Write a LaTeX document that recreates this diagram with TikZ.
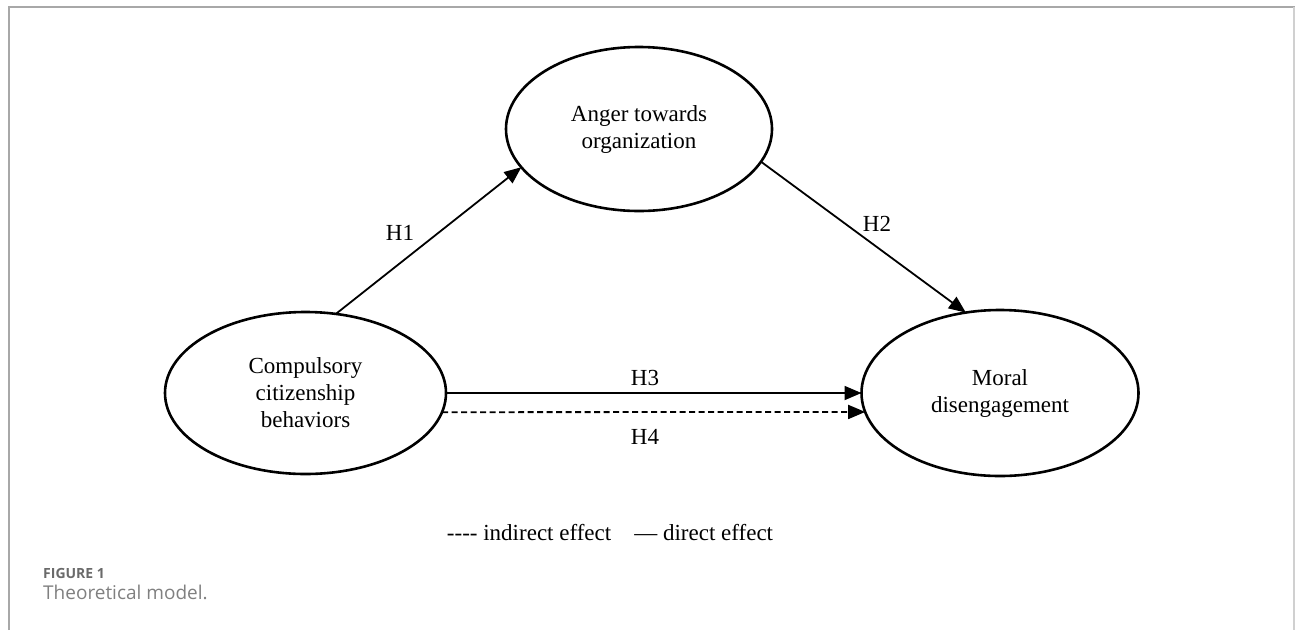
\documentclass[tikz,border=0pt]{standalone}
\usepackage{fontspec}
\setmainfont{Liberation Serif}
\newfontfamily\capfont{Open Sans}
\usetikzlibrary{shapes.geometric,arrows.meta}
\definecolor{framegray}{HTML}{A8A8A8}
\definecolor{framelight}{HTML}{D0D0D0}
\definecolor{capgray}{HTML}{6A6A6A}
\tikzset{
  construct/.style={draw, ellipse, line width=2.6pt, inner sep=0pt, outer sep=0pt,
    align=center, font=\fontsize{23}{27}\selectfont},
  hpath/.style={line width=1.8pt, -{Triangle[length=17pt,width=14pt]}},
  dpath/.style={hpath, dash pattern=on 6pt off 3.5pt},
  hlabel/.style={font=\fontsize{23}{27}\selectfont, inner sep=0pt},
}
\begin{document}
\begin{tikzpicture}[x=1pt,y=-1pt]
\useasboundingbox (0,0) rectangle (1295,630);
% frame
\draw[framegray, line width=1.5pt] (9,630) -- (9,7) -- (1295,7);
\draw[framelight, line width=1.5pt] (1294,7) -- (1294,630);
% constructs
\node[construct, minimum width=266pt, minimum height=164pt] (anger) at (639,129) {Anger towards\\organization};
\node[construct, minimum width=281pt, minimum height=162pt] (ccb) at (305.5,393) {Compulsory\\citizenship\\behaviors};
\node[construct, minimum width=277pt, minimum height=166pt] (moral) at (1000,393) {Moral\\disengagement};
% paths
\draw[hpath] (ccb.69.8) -- (anger.198.4);
\draw[hpath] (anger.345.2) -- (moral.113.4);
\draw[hpath] (ccb.east) -- (moral.west);
\draw[dpath] (ccb.-8.8) -- (moral.188.9);
% labels
\node[hlabel] (h1) at (400,233) {H1};
\node[hlabel] (h2) at (877,224) {H2};
\node[hlabel] (h3) at (645,378) {H3};
\node[hlabel] (h4) at (645,437) {H4};
% legend
\node[hlabel] (legend) at (610,533) {-{}-{}-{}- indirect effect\hspace{1em}— direct effect};
% caption
\node[anchor=west, inner sep=0pt, text=capgray, font=\capfont\fontsize{14}{16}\selectfont\bfseries] (fig) at (43,573) {FIGURE 1};
\node[anchor=west, inner sep=0pt, text=capgray!85, font=\capfont\fontsize{19}{22}\selectfont] (cap) at (43,592) {Theoretical model.};
\end{tikzpicture}
\end{document}
